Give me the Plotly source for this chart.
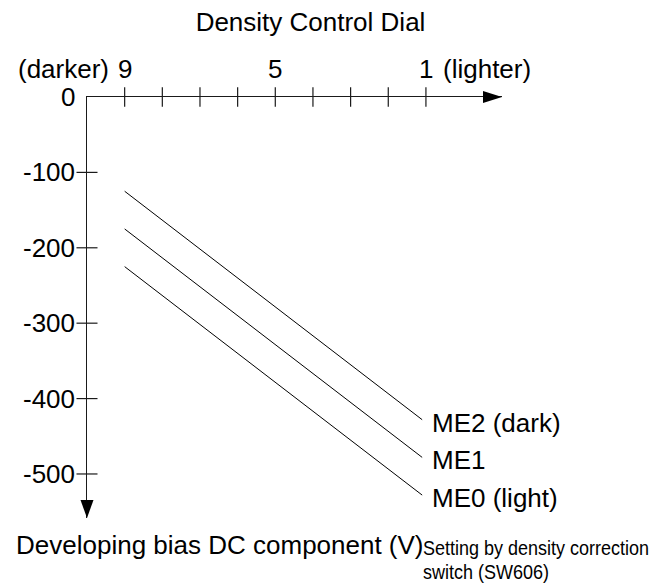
import plotly.graph_objects as go

# Density control dial positions (9 = darker ... 1 = lighter)
dial_ticks = [9, 8, 7, 6, 5, 4, 3, 2, 1]
dial_labelled = [9, 5, 1]
dial_text = ["9", "5", "1"]

# Developing bias DC component (V)
bias_ticks = [0, -100, -200, -300, -400, -500]
bias_text = ["0", "-100", "-200", "-300", "-400", "-500"]

# Settings of the density correction switch (SW606)
series_names = ["ME2 (dark)", "ME1", "ME0 (light)"]
dial_span = [9, 1.1]
me2 = [-125, -428]
me1 = [-175, -478]
me0 = [-225, -528]
series_values = [me2, me1, me0]

note_lines = ["Setting by density correction", "switch (SW606)"]

W, H = 655, 585
L, R, T, B = 87, 153, 97, 67
X_RANGE = [10, -1.02]
Y_RANGE = [-558.4, 0]

FONT = "Liberation Sans, Arial, Helvetica, sans-serif"
INK = "#000000"
AXIS = "#1a1a1a"


def paper_x(px):
    return (px - L) / (W - L - R)


def paper_y(py):
    return (H - B - py) / (H - T - B)


fig = go.Figure()

for name, vals in zip(series_names, series_values):
    fig.add_trace(go.Scatter(
        x=dial_span, y=vals, mode="lines", name=name,
        line=dict(color=INK, width=1), showlegend=False, hoverinfo="skip",
    ))

# tick marks crossing the axes
fig.add_trace(go.Scatter(
    x=dial_ticks, y=[0] * len(dial_ticks), mode="markers", cliponaxis=False,
    marker=dict(symbol="line-ns", size=14, line=dict(color=AXIS, width=1.2)),
    showlegend=False, hoverinfo="skip",
))
fig.add_trace(go.Scatter(
    x=[10] * (len(bias_ticks) - 1), y=bias_ticks[1:], mode="markers", cliponaxis=False,
    marker=dict(symbol="line-ew", size=15, line=dict(color=AXIS, width=1.2)),
    showlegend=False, hoverinfo="skip",
))

annotations = []
for v, t in zip(dial_labelled, dial_text):
    annotations.append(dict(x=v, y=0, xref="x", yref="y", text=t, showarrow=False,
                            xanchor="center", yanchor="bottom", yshift=11,
                            font=dict(family=FONT, size=26, color=INK)))
annotations.append(dict(x=9, y=0, xref="x", yref="y", text="(darker)", showarrow=False,
                        xanchor="right", yanchor="bottom", yshift=11, xshift=-14,
                        font=dict(family=FONT, size=26, color=INK)))
annotations.append(dict(x=1, y=0, xref="x", yref="y", text="(lighter)", showarrow=False,
                        xanchor="left", yanchor="bottom", yshift=11, xshift=15,
                        font=dict(family=FONT, size=26, color=INK)))

for v, t in zip(bias_ticks, bias_text):
    annotations.append(dict(x=10, y=v, xref="x", yref="y", text=t, showarrow=False,
                            xanchor="right", yanchor="middle", xshift=-10,
                            font=dict(family=FONT, size=26, color=INK)))

for name, vals in zip(series_names, series_values):
    annotations.append(dict(x=dial_span[-1], y=vals[-1], xref="x", yref="y", text=name,
                            showarrow=False, xanchor="left", yanchor="middle",
                            xshift=8, yshift=-3,
                            font=dict(family=FONT, size=26, color=INK)))

annotations.append(dict(x=paper_x(14), y=paper_y(545), xref="paper", yref="paper",
                        text="Developing bias DC component (V)", showarrow=False,
                        xanchor="left", yanchor="middle",
                        font=dict(family=FONT, size=26, color=INK)))
for line, py in zip(note_lines, [548, 572]):
    annotations.append(dict(x=paper_x(422), y=paper_y(py), xref="paper", yref="paper",
                            text=line, showarrow=False, xanchor="left", yanchor="middle",
                            height=22, borderpad=0,
                            font=dict(family=FONT, size=20, color=INK)))

shapes = [
    # arrow head of the dial axis
    dict(type="path", xref="paper", yref="paper", xsizemode="pixel", ysizemode="pixel",
         xanchor=1, yanchor=1, path="M -19,6 L 0,0 L -19,-6 Z",
         fillcolor=INK, line=dict(width=0)),
    # arrow head of the bias axis
    dict(type="path", xref="paper", yref="paper", xsizemode="pixel", ysizemode="pixel",
         xanchor=0, yanchor=0, path="M -6.5,18 L 0,0 L 6.5,18 Z",
         fillcolor=INK, line=dict(width=0)),
]

fig.update_layout(
    width=W, height=H, autosize=False,
    margin=dict(l=L, r=R, t=T, b=B, pad=0),
    paper_bgcolor="white", plot_bgcolor="white",
    title=dict(text="Density Control Dial", x=310.5 / W, xanchor="center",
               y=1 - 22 / H, yanchor="middle", xref="container", yref="container",
               font=dict(family=FONT, size=26, color=INK)),
    xaxis=dict(range=X_RANGE, side="top", showline=True, linecolor=AXIS, linewidth=1.2,
               showgrid=False, zeroline=False, ticks="", showticklabels=False,
               fixedrange=True),
    yaxis=dict(range=Y_RANGE, side="left", showline=True, linecolor=AXIS, linewidth=1.2,
               showgrid=False, zeroline=False, ticks="", showticklabels=False,
               fixedrange=True),
    annotations=annotations,
    shapes=shapes,
    showlegend=False,
)

# the switch note is set in a condensed face: squeeze it horizontally from its left edge
squeeze_js = """
var gd = document.getElementById('{plot_id}');
var notes = %s;
gd.querySelectorAll('text.annotation-text').forEach(function (t) {
  if (notes.indexOf(t.textContent) >= 0) {
    var b = t.getBBox();
    t.setAttribute('transform',
      'translate(' + b.x + ',0) scale(0.9,1) translate(' + (-b.x) + ',0)');
  }
});
""" % ("[" + ",".join('"%s"' % s for s in note_lines) + "]")

fig.write_html("out.html", post_script=squeeze_js)
